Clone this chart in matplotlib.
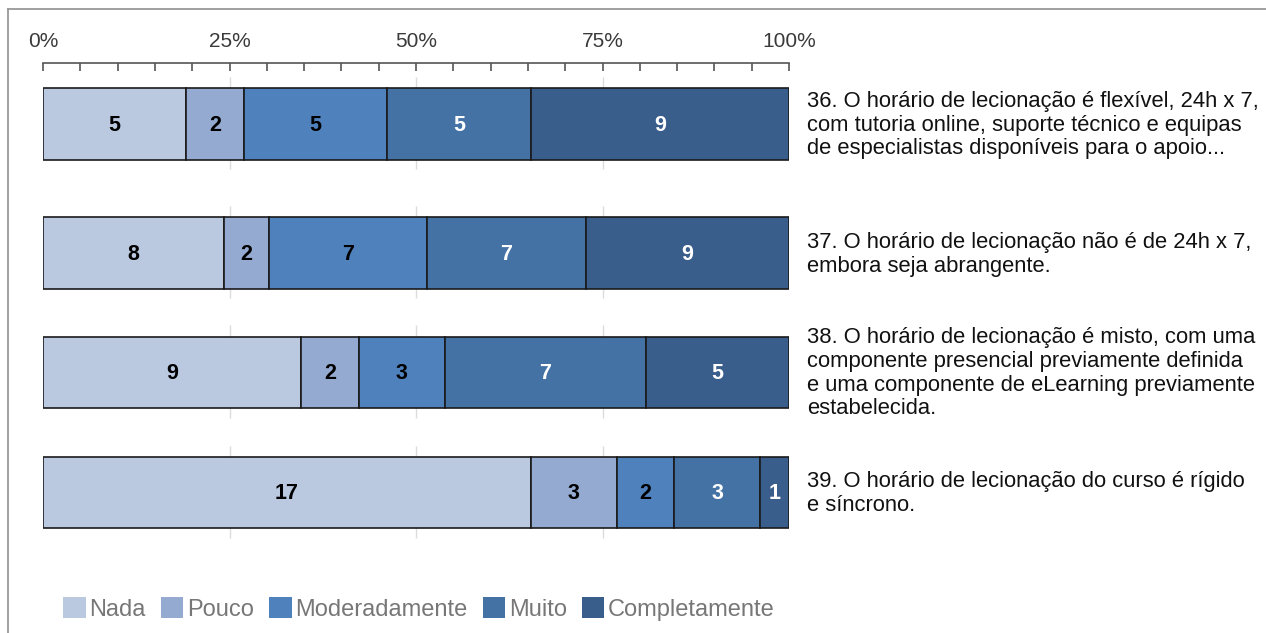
import matplotlib
matplotlib.use("Agg")
import matplotlib.pyplot as plt
from matplotlib.patches import Patch
from matplotlib.lines import Line2D
import numpy as np

# data
levels = ["Nada", "Pouco", "Moderadamente", "Muito", "Completamente"]
colors = ["#bac8e0", "#94aad0", "#4f81bd", "#4572a5", "#3a5e8c"]
text_colors = ["black", "black", "black", "white", "white"]

questions = [
    "36. O horário de lecionação é flexível, 24h x 7,\ncom tutoria online, suporte técnico e equipas\nde especialistas disponíveis para o apoio...",
    "37. O horário de lecionação não é de 24h x 7,\nembora seja abrangente.",
    "38. O horário de lecionação é misto, com uma\ncomponente presencial previamente definida\ne uma componente de eLearning previamente\nestabelecida.",
    "39. O horário de lecionação do curso é rígido\ne síncrono.",
]
nada = [5, 8, 9, 17]
pouco = [2, 2, 2, 3]
moderadamente = [5, 7, 3, 2]
muito = [5, 7, 7, 3]
completamente = [9, 9, 5, 1]

counts = np.array([nada, pouco, moderadamente, muito, completamente], dtype=float)
pct = counts / counts.sum(axis=0) * 100

fig = plt.figure(figsize=(12.66, 6.33), dpi=100)
ax = fig.add_axes([43 / 1266, 1 - 554 / 633, 746 / 1266, (554 - 62.5) / 633])

# rows are spaced a little wider between the first two
rows = np.array([0, 1.05, 2.02, 3.0])
bar_h = 0.58

# short grid segments around each bar
for r in rows:
    ax.vlines([25, 50, 75], r - bar_h / 2 - 0.09, r + bar_h / 2 + 0.08,
              color="#dcdcdc", lw=1, zorder=0)

left = np.zeros(len(questions))
for i, lvl in enumerate(levels):
    ax.barh(rows, pct[i], left=left, height=bar_h, color=colors[i],
            edgecolor="#1a1a1a", linewidth=1.2, zorder=2)
    for k, r in enumerate(rows):
        ax.text(left[k] + pct[i][k] / 2, r + 0.01, f"{int(counts[i][k])}",
                ha="center", va="center", fontsize=15.5, fontweight="bold",
                color=text_colors[i], family="Liberation Sans", zorder=3)
    left += pct[i]

for r, q in zip(rows, questions):
    ax.text(1.024, r + 0.01, q, transform=ax.get_yaxis_transform(), ha="left",
            va="center", fontsize=15.8, family="Liberation Sans",
            color="#111111", linespacing=1.17)

ax.set_xlim(0, 100)
ax.set_ylim(3.5, -0.5)
ax.xaxis.tick_top()
ax.set_xticks([0, 25, 50, 75, 100])
ax.set_xticklabels(["0%", "25%", "50%", "75%", "100%"])
ax.set_xticks(np.arange(0, 101, 5), minor=True)
ax.tick_params(axis="x", which="both", direction="in", length=6, width=1.2,
               color="#555555", labelsize=15, labelcolor="#3a3a3a", pad=8.5)
for lbl in ax.get_xticklabels():
    lbl.set_family("Liberation Sans")
ax.set_yticks([])
for s in ["left", "right", "bottom"]:
    ax.spines[s].set_visible(False)
ax.spines["top"].set_color("#555555")
ax.spines["top"].set_linewidth(1.2)

# outer frame (top and left edges)
fy = 1 - 9 / 633
fx = 8 / 1266
fig.add_artist(Line2D([fx, fx], [0, fy], transform=fig.transFigure, color="#999999", lw=1.3))
fig.add_artist(Line2D([fx, 1], [fy, fy], transform=fig.transFigure, color="#999999", lw=1.3))

handles = [Patch(facecolor=c, edgecolor="none") for c in colors]
leg = fig.legend(handles, levels, loc="center", bbox_to_anchor=(419 / 1266, 1 - 609 / 633),
                 ncol=5, frameon=False, handlelength=0.95, handleheight=0.95,
                 handletextpad=0.15, columnspacing=0.65,
                 prop={"family": "Liberation Sans", "size": 17})
for t in leg.get_texts():
    t.set_color("#777777")

fig.savefig("out.png", dpi=100, facecolor="white")
